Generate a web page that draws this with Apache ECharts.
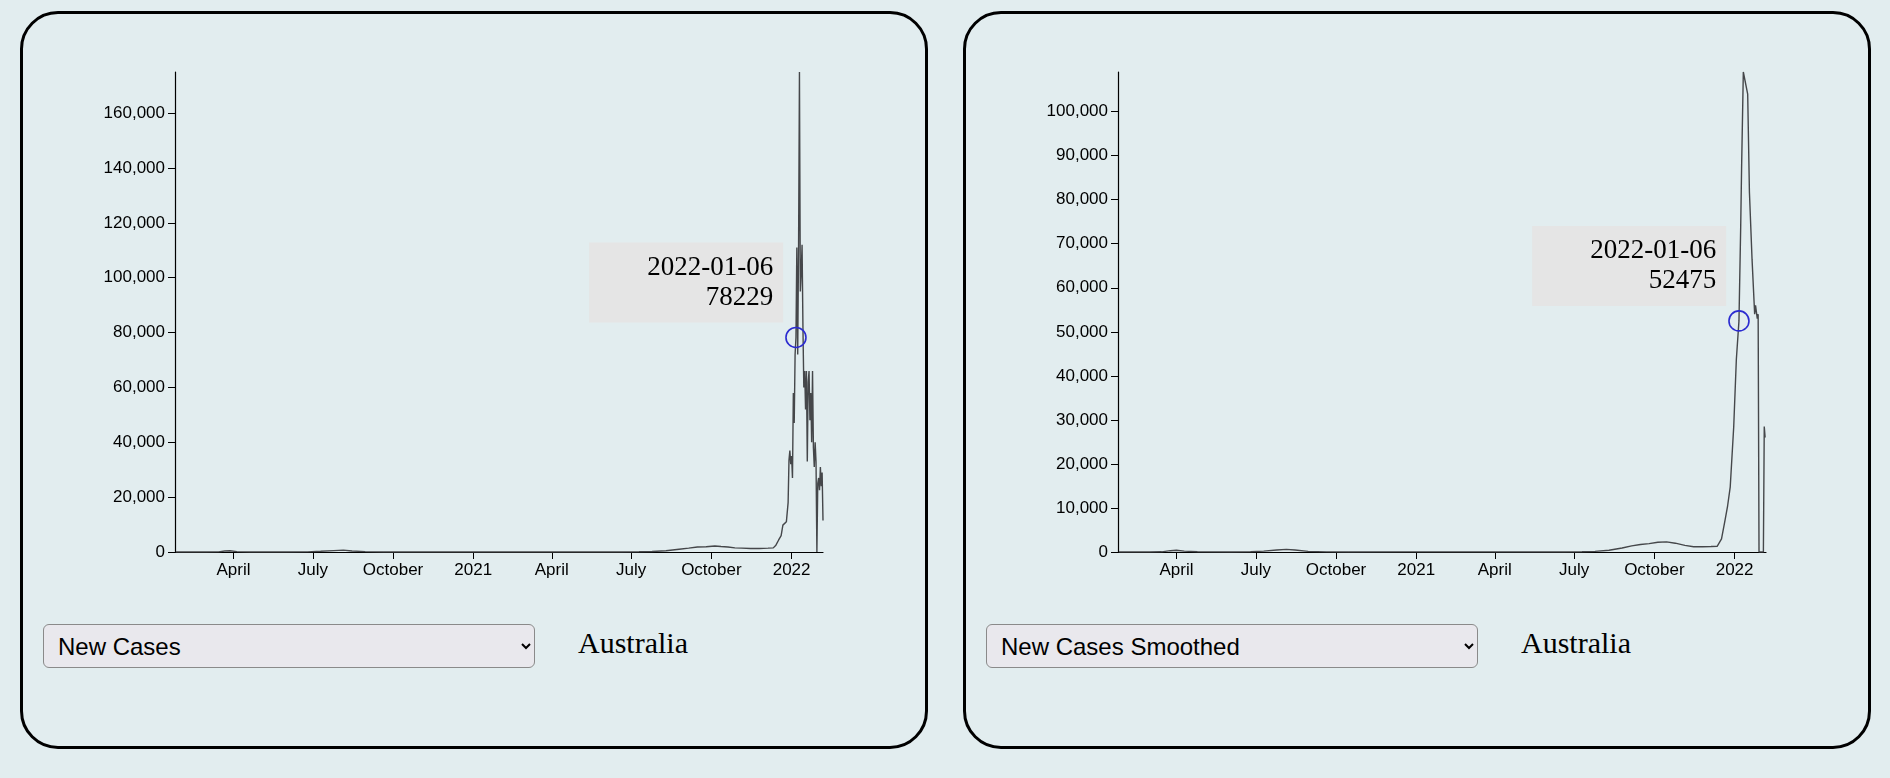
<!DOCTYPE html>
<html>
<head>
<meta charset="utf-8">
<script src="https://cdn.jsdelivr.net/npm/echarts@6/dist/echarts.min.js"></script>
<style>
  body { margin: 0; background: #e2edef; width: 1890px; height: 778px; position: relative; overflow: hidden; }
  .panel { position: absolute; top: 11px; width: 902px; height: 732px; border: 3px solid #000; border-radius: 38px; background: #e2edef; }
  .chart { position: absolute; left: 0; top: 0; width: 902px; height: 600px; }
  select { position: absolute; left: 20px; top: 610px; width: 492px; height: 44px; font: 24px "Liberation Sans", sans-serif;
           background: #e9e8ed; border: 1.5px solid #8a8a8a; border-radius: 6px; padding-left: 10px; color: #000; }
  .country { position: absolute; left: 555px; top: 612px; font: 30px "Liberation Serif", serif; color: #000; }
</style>
</head>
<body>
<div class="panel" style="left:20px">
  <div id="main" class="chart"></div>
  <select><option>New Cases</option></select>
  <div class="country">Australia</div>
</div>
<div class="panel" style="left:963px">
  <div id="main1" class="chart"></div>
  <select><option>New Cases Smoothed</option></select>
  <div class="country">Australia</div>
</div>
<script>
// 日期刻度（季度）
var tickDates = ['2020-04-01','2020-07-01','2020-10-01','2021-01-01','2021-04-01','2021-07-01','2021-10-01','2022-01-01'];
var monthNames = ['January','February','March','April','May','June','July','August','September','October','November','December'];

// New Cases
var newDates = ['2020-01-26','2020-03-01','2020-03-15','2020-03-22','2020-03-28','2020-04-05','2020-04-20','2020-06-01','2020-06-25','2020-07-10','2020-07-25','2020-08-05','2020-08-15','2020-08-30','2020-09-20','2020-10-15','2021-01-01','2021-06-20','2021-07-10','2021-07-25','2021-08-10','2021-08-25','2021-09-05','2021-09-15','2021-09-25','2021-10-05','2021-10-12','2021-10-20','2021-10-28','2021-11-05','2021-11-15','2021-11-25','2021-12-05','2021-12-11','2021-12-14','2021-12-17','2021-12-20','2021-12-22','2021-12-24','2021-12-26','2021-12-28','2021-12-29','2021-12-30','2021-12-31','2022-01-01','2022-01-02','2022-01-03','2022-01-04','2022-01-05','2022-01-06','2022-01-07','2022-01-08','2022-01-09','2022-01-10','2022-01-11','2022-01-12','2022-01-13','2022-01-14','2022-01-15','2022-01-16','2022-01-17','2022-01-18','2022-01-19','2022-01-20','2022-01-21','2022-01-22','2022-01-23','2022-01-24','2022-01-25','2022-01-26','2022-01-27','2022-01-28','2022-01-29','2022-01-30','2022-01-31','2022-02-01','2022-02-02','2022-02-03','2022-02-04','2022-02-05','2022-02-06'];
var newValues = [0,2,50,350,460,150,20,10,60,250,500,680,380,120,20,10,20,15,80,180,450,1000,1400,1800,1900,2200,2000,1800,1500,1400,1250,1300,1400,1500,2500,4300,6000,9800,10500,11000,18000,33500,37000,32000,35000,27000,58000,47000,72000,78229,111000,72000,112000,175000,95000,102000,112000,82000,60000,66000,52000,66000,33000,62000,66000,48000,58000,40000,66000,38000,31000,40000,33000,0,25000,27000,22500,31000,24000,29000,11500];

// New Cases Smoothed
var smDates = ['2020-01-26','2020-03-01','2020-03-15','2020-03-25','2020-04-01','2020-04-10','2020-04-25','2020-06-01','2020-06-25','2020-07-10','2020-07-25','2020-08-05','2020-08-15','2020-08-30','2020-09-20','2020-10-15','2021-01-01','2021-06-20','2021-07-10','2021-07-25','2021-08-10','2021-08-25','2021-09-05','2021-09-15','2021-09-25','2021-10-05','2021-10-15','2021-10-25','2021-11-05','2021-11-15','2021-11-25','2021-12-05','2021-12-12','2021-12-17','2021-12-21','2021-12-24','2021-12-27','2021-12-31','2022-01-03','2022-01-06','2022-01-08','2022-01-09','2022-01-11','2022-01-12','2022-01-16','2022-01-18','2022-01-21','2022-01-24','2022-01-25','2022-01-27','2022-01-28','2022-01-29','2022-02-03','2022-02-04','2022-02-05'];
var smValues = [0,2,40,300,400,200,40,10,50,200,450,600,450,150,30,10,20,15,60,150,400,900,1400,1700,1900,2200,2300,2000,1500,1200,1200,1250,1300,3000,7200,10500,14800,28500,43700,52475,74000,87000,109000,109000,104000,81700,66500,54000,56000,53000,54000,0,0,28500,26000];

var highlight = [
  { date: '2022-01-06', value: 78229 },
  { date: '2022-01-06', value: 52475 }
];

function ts(d) { return +new Date(d + 'T00:00:00Z'); }

function pairs(d, v) {
  return d.map(function (x, i) { return [ts(x), v[i]]; });
}

function makeOption(data, yTicks, hl) {
  var xTicks = tickDates.map(ts);
  return {
    animation: false,
    grid: { left: 152, top: 58, width: 648, height: 480 },
    xAxis: {
      type: 'value',
      min: ts('2020-01-25'), max: ts('2022-02-06'),
      splitLine: { show: false },
      axisLine: { lineStyle: { color: '#000', width: 1.2 } },
      axisTick: { length: 7, lineStyle: { color: '#000' }, customValues: xTicks },
      axisLabel: {
        color: '#000', fontSize: 17, fontFamily: 'Liberation Sans', margin: 10,
        customValues: xTicks,
        formatter: function (v) {
          var dt = new Date(v);
          return dt.getUTCMonth() === 0 ? String(dt.getUTCFullYear()) : monthNames[dt.getUTCMonth()];
        }
      }
    },
    yAxis: {
      type: 'value', min: 0, max: 'dataMax',
      splitLine: { show: false },
      axisLine: { show: true, lineStyle: { color: '#000', width: 1.2 } },
      axisTick: { show: true, length: 7, lineStyle: { color: '#000' }, customValues: yTicks },
      axisLabel: {
        color: '#000', fontSize: 17, fontFamily: 'Liberation Sans', margin: 10,
        customValues: yTicks,
        formatter: function (v) { return v.toLocaleString('en-US'); }
      }
    },
    series: [{
      type: 'line',
      data: data,
      showSymbol: false,
      lineStyle: { color: '#45474a', width: 1.4 },
      markPoint: {
        symbol: 'circle', symbolSize: 20,
        itemStyle: { color: 'rgba(0,0,0,0)', borderColor: '#2b2bd0', borderWidth: 1.6 },
        label: {
          show: true, position: 'left', distance: 2, offset: [0, -55],
          formatter: hl.date + '\n' + hl.value,
          align: 'right',
          fontFamily: 'Liberation Serif', fontSize: 27, lineHeight: 30, color: '#000',
          backgroundColor: '#e5e5e5', padding: [10, 10, 10, 58]
        },
        data: [{ coord: [ts(hl.date), hl.value] }]
      }
    }]
  };
}

var myChart = echarts.init(document.getElementById('main'));
myChart.setOption(makeOption(pairs(newDates, newValues),
  [0, 20000, 40000, 60000, 80000, 100000, 120000, 140000, 160000], highlight[0]));

var myChart1 = echarts.init(document.getElementById('main1'));
myChart1.setOption(makeOption(pairs(smDates, smValues),
  [0, 10000, 20000, 30000, 40000, 50000, 60000, 70000, 80000, 90000, 100000], highlight[1]));
</script>
</body>
</html>
